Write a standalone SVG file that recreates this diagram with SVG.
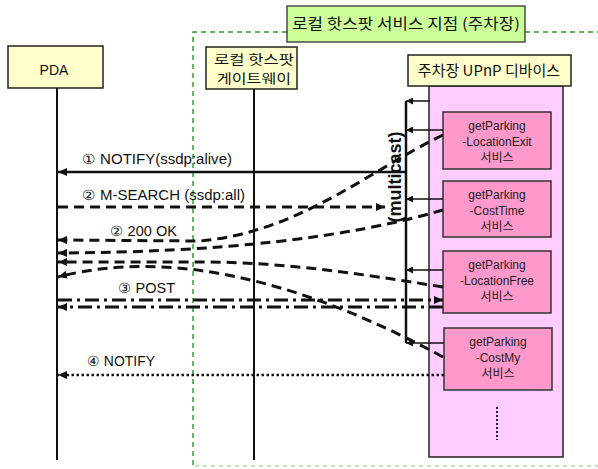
<svg xmlns="http://www.w3.org/2000/svg" width="598" height="469" viewBox="0 0 598 469">
<style>
.lab{font-family:"Liberation Sans","Noto Sans",sans-serif;font-size:14px;fill:#111}
.kr{font-family:"Noto Sans CJK KR","Noto Sans",sans-serif;font-size:15px;fill:#111}
.svc{font-family:"Liberation Sans","Noto Sans CJK KR",sans-serif;font-size:12px;fill:#222;text-anchor:middle}
.ybox{fill:#FFFFCC;stroke:#222;stroke-width:1.5}
.sbox{fill:#FF99CC;stroke:#333;stroke-width:1.5}
.life{stroke:#111;stroke-width:2;fill:none}
.dash{stroke:#111;stroke-width:3;fill:none;stroke-dasharray:10 6}
.dashdot{stroke:#111;stroke-width:3;fill:none;stroke-dasharray:14 5 3 5}
.dot{stroke:#111;stroke-width:2.5;fill:none;stroke-dasharray:2.5 2.5}
.thin{stroke:#111;stroke-width:1.5;fill:none}
</style>
<defs>
<marker id="ah" markerUnits="userSpaceOnUse" markerWidth="10" markerHeight="8" refX="9" refY="4" orient="auto">
<path d="M0,0 L9,4 L0,8 Z" fill="#111"/>
</marker>
<marker id="ahs" markerUnits="userSpaceOnUse" markerWidth="8" markerHeight="7" refX="7" refY="3.5" orient="auto">
<path d="M0,0 L7,3.5 L0,7 Z" fill="#111"/>
</marker>
</defs>
<rect width="598" height="469" fill="#fff"/>

<g id="zone">
<path d="M287,32 L193,32 L193,467" fill="none" stroke="#339933" stroke-width="1.5" stroke-dasharray="5 4"/>
<path d="M525,32 L598,32" fill="none" stroke="#339933" stroke-width="1.5" stroke-dasharray="5 4"/>
<path d="M195,466 L598,466" fill="none" stroke="#AADD99" stroke-width="1.5" stroke-dasharray="4 4"/>
<rect x="287" y="6" width="238" height="36" fill="#CCFF99" stroke="#222" stroke-width="1.2"/>
<text class="kr" x="406" y="29" text-anchor="middle" textLength="228" lengthAdjust="spacingAndGlyphs">로컬 핫스팟 서비스 지점 (주차장)</text>
</g>

<g id="pda">
<rect class="ybox" x="8" y="46" width="95" height="42"/>
<text class="lab" x="54" y="75" text-anchor="middle" style="font-size:14px">PDA</text>
<line class="life" x1="57" y1="88" x2="57" y2="460"/>
</g>

<g id="gateway">
<rect class="ybox" x="206" y="47" width="91" height="42"/>
<text class="kr" x="254" y="64" text-anchor="middle" style="font-size:13px" textLength="80" lengthAdjust="spacingAndGlyphs">로컬 핫스팟</text>
<text class="kr" x="254" y="83" text-anchor="middle" style="font-size:13px" textLength="74" lengthAdjust="spacingAndGlyphs">게이트웨이</text>
<line class="life" x1="254" y1="89" x2="254" y2="460"/>
</g>

<g id="device">
<rect x="429" y="86" width="134" height="371" fill="#FFCCFF" stroke="#222" stroke-width="1.5"/>
<rect class="ybox" x="408" y="55" width="163" height="31"/>
<text class="kr" x="489" y="76" text-anchor="middle">주차장 UPnP 디바이스</text>
<line x1="497" y1="407" x2="497" y2="440" stroke="#222" stroke-width="2" stroke-dasharray="2 2"/>
</g>

<g id="svc1">
<rect class="sbox" x="443" y="112" width="108" height="57"/>
<text class="svc" x="497" y="130">getParking</text>
<text class="svc" x="497" y="146">-LocationExit</text>
<text class="svc" x="497" y="162">서비스</text>
</g>
<g id="svc2">
<rect class="sbox" x="443" y="181" width="108" height="56"/>
<text class="svc" x="497" y="199">getParking</text>
<text class="svc" x="497" y="215">-CostTime</text>
<text class="svc" x="497" y="231">서비스</text>
</g>
<g id="svc3">
<rect class="sbox" x="443" y="251" width="108" height="62"/>
<text class="svc" x="497" y="269">getParking</text>
<text class="svc" x="497" y="285">-LocationFree</text>
<text class="svc" x="497" y="301">서비스</text>
</g>
<g id="svc4">
<rect class="sbox" x="444" y="328" width="108" height="62"/>
<text class="svc" x="498" y="346">getParking</text>
<text class="svc" x="498" y="362">-CostMy</text>
<text class="svc" x="498" y="378">서비스</text>
</g>

<g id="multicast">
<line x1="406" y1="101" x2="406" y2="343" stroke="#111" stroke-width="2.5"/>
<text x="0" y="0" transform="translate(401,177) rotate(-90)" text-anchor="middle" style="font-family:'Liberation Sans',sans-serif;font-size:18px;font-weight:bold;fill:#111">(multicast)</text>
</g>

<g id="connectors">
<line class="thin" x1="430" y1="101" x2="406" y2="101" marker-end="url(#ahs)"/>
<line class="thin" x1="443" y1="130" x2="406" y2="130" marker-end="url(#ahs)"/>
<line class="thin" x1="443" y1="199" x2="406" y2="199" marker-end="url(#ahs)"/>
<line class="thin" x1="443" y1="270" x2="406" y2="270" marker-end="url(#ahs)"/>
<line class="thin" x1="444" y1="343" x2="406" y2="343" marker-end="url(#ahs)"/>

<line x1="406" y1="172" x2="58" y2="172" stroke="#111" stroke-width="2.5" marker-end="url(#ah)"/>
<text class="lab" x="82" y="164" textLength="150" lengthAdjust="spacingAndGlyphs">① NOTIFY(ssdp:alive)</text>

<line class="dash" x1="58" y1="207" x2="385" y2="207" marker-end="url(#ah)"/>
<text class="lab" x="82" y="200" textLength="163" lengthAdjust="spacingAndGlyphs">② M-SEARCH (ssdp:all)</text>

<text class="lab" x="110" y="236" textLength="67" lengthAdjust="spacingAndGlyphs">② 200 OK</text>
<path class="dash" d="M443,135 C 370,170 300,232 200,241 L 58,240" marker-end="url(#ah)"/>
<path class="dash" d="M443,210 Q 300,252 58,253" marker-end="url(#ah)"/>
<path class="dash" d="M443,287 C 350,272 280,262 200,262 L 58,262" marker-end="url(#ah)"/>
<path class="dash" d="M443,357 C 320,290 180,245 58,277" marker-end="url(#ah)"/>

<text class="lab" x="118" y="293" textLength="57" lengthAdjust="spacingAndGlyphs">③ POST</text>
<line class="dashdot" x1="58" y1="300" x2="443" y2="300" marker-end="url(#ah)"/>
<line class="dashdot" x1="443" y1="307" x2="58" y2="307" marker-end="url(#ah)"/>

<text class="lab" x="87" y="366" textLength="68" lengthAdjust="spacingAndGlyphs">④ NOTIFY</text>
<line class="dot" x1="444" y1="375" x2="58" y2="375" marker-end="url(#ah)"/>
</g>
</svg>
